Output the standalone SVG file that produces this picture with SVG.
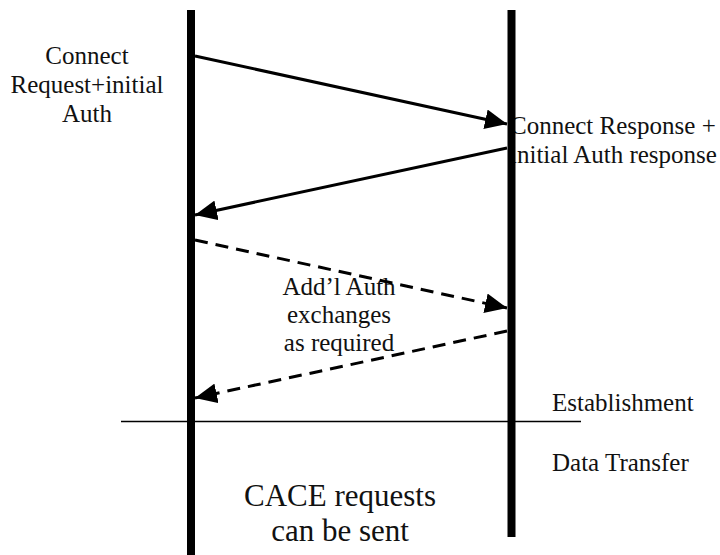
<svg xmlns="http://www.w3.org/2000/svg" width="720" height="555" viewBox="0 0 720 555">
<style>
text{font-family:'Liberation Serif','Times New Roman',serif;fill:#111}
.lbl{font-size:25px}
.big{font-size:31px}
.life{stroke:#000;stroke-width:8}
.msg{stroke:#000;stroke-width:3;fill:none}
.dash{stroke-dasharray:13 8}
</style>
<defs>
<marker id="ah" markerUnits="userSpaceOnUse" markerWidth="24" markerHeight="20" refX="22" refY="10" orient="auto">
<path d="M0,0 L22,10 L0,20 Z" fill="#000"/>
</marker>
</defs>
<rect width="720" height="555" fill="#fff"/>
<g id="label-request">
<text class="lbl" x="87" y="64" text-anchor="middle">Connect</text>
<text class="lbl" x="87" y="93" text-anchor="middle">Request+initial</text>
<text class="lbl" x="87" y="122" text-anchor="middle">Auth</text>
</g>
<g id="label-response">
<text class="lbl" x="510" y="134">Connect Response +</text>
<text class="lbl" x="510" y="163">initial Auth response</text>
</g>
<g id="label-addl">
<text class="lbl" x="339" y="295" text-anchor="middle">Add’l Auth</text>
<text class="lbl" x="339" y="323" text-anchor="middle">exchanges</text>
<text class="lbl" x="339" y="351" text-anchor="middle">as required</text>
</g>
<g id="label-phases">
<text class="lbl" x="552" y="411">Establishment</text>
<text class="lbl" x="552" y="471">Data Transfer</text>
</g>
<g id="label-cace">
<text class="big" x="340" y="506" text-anchor="middle">CACE requests</text>
<text class="big" x="340" y="541" text-anchor="middle">can be sent</text>
</g>
<g id="lifeline-left"><line class="life" x1="191" y1="10" x2="191" y2="555"/></g>
<g id="lifeline-right"><line class="life" x1="511.5" y1="10" x2="511.5" y2="537"/></g>
<g id="divider"><line x1="121" y1="421.5" x2="581" y2="421.5" stroke="#000" stroke-width="1.5"/></g>
<g id="connectors">
<line class="msg" x1="195" y1="56" x2="507" y2="124" marker-end="url(#ah)"/>
<line class="msg" x1="507" y1="148" x2="195" y2="215" marker-end="url(#ah)"/>
<line class="msg dash" x1="195" y1="240" x2="507" y2="308" marker-end="url(#ah)"/>
<line class="msg dash" x1="507" y1="331" x2="195" y2="398" marker-end="url(#ah)"/>
</g>
</svg>
